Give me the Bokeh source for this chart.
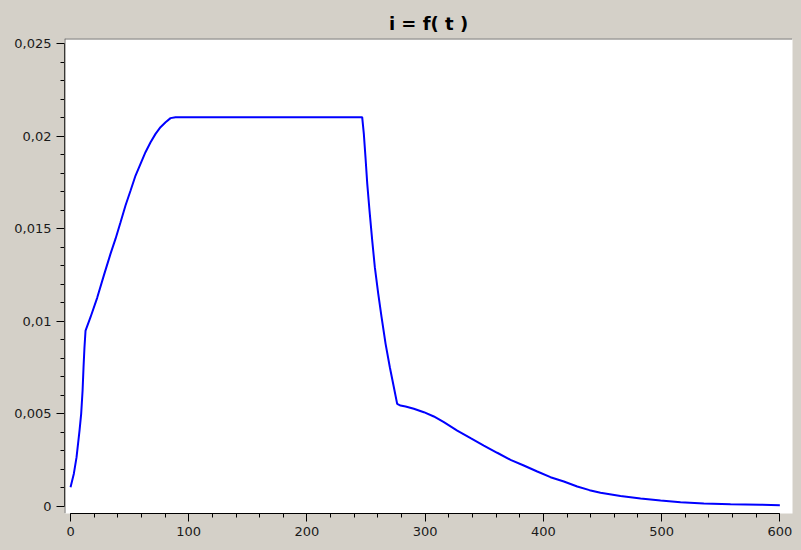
from bokeh.plotting import figure
from bokeh.models import FixedTicker, CustomJSTickFormatter, Span, Range1d, GlobalInlineStyleSheet
from bokeh.embed import file_html
from bokeh.resources import INLINE

# ---- data ----
t = [0, 2.8, 5.1, 7.6, 9.0, 10.2, 11.0, 11.8, 12.7,
     16.9, 22.6, 28.2, 33.8, 38.1, 42.3, 46.5, 50.8, 55.0, 59.2, 63.4, 67.7, 71.9, 76.1,
     80.4, 84.6, 88.8,
     150, 200, 246.7,
     248.1, 249.5, 251.0, 252.9, 255.2, 257.4, 260.3, 263.1, 266.5, 270.1, 273.5, 276.3, 279.1,
     283.4, 290.4, 298.9, 307.3, 315.8, 327.1, 338.4, 349.6, 360.9, 372.2, 383.4, 394.8,
     406.0, 417.3, 428.6, 439.0, 448.3, 465.2, 482.2, 499.1, 516.0, 535.7, 558.3, 583.7, 600]
i = [0.00104, 0.00177, 0.00266, 0.0041, 0.0050, 0.00626, 0.00752, 0.0086, 0.0095,
     0.01022, 0.01128, 0.01248, 0.01364, 0.01446, 0.01535, 0.01625, 0.01706, 0.01787,
     0.0185, 0.01913, 0.01967, 0.02012, 0.02048, 0.02075, 0.02097, 0.02102,
     0.02102, 0.02102, 0.02102,
     0.02012, 0.01886, 0.01742, 0.01598, 0.01436, 0.01292, 0.01148, 0.01022, 0.00878, 0.00752,
     0.00644, 0.00554, 0.00545,
     0.0054, 0.00528, 0.00509, 0.00486, 0.00455, 0.0041, 0.00369, 0.00329, 0.0029, 0.00252,
     0.00221, 0.00189, 0.00158, 0.00135, 0.00108, 0.00088, 0.00074, 0.00056, 0.00043, 0.00032,
     0.00023, 0.00016, 0.00012, 0.00009, 0.00007]

x_ticks = [0, 100, 200, 300, 400, 500, 600]
x_minor = list(range(0, 601, 20))
y_ticks = [0, 0.005, 0.01, 0.015, 0.02, 0.025]
y_minor = [k / 1000 for k in range(0, 26)]

title_text = "i = f( t )"

BG = "#d4d0c8"
FRAME = "#6e6d68"

x0, x1 = -5.1, 610.7
y0, y1 = -0.00038, 0.02527

p = figure(width=801, height=550, output_backend="svg", toolbar_location=None,
           x_range=Range1d(x0, x1), y_range=Range1d(y0, y1),
           min_border_left=64, min_border_right=9, min_border_top=38, min_border_bottom=37,
           background_fill_color="white", border_fill_color=BG, outline_line_color=None,
           title=title_text)

p.title.align = "center"
p.title.text_font = "DejaVu Sans"
p.title.text_font_size = "18px"
p.title.text_font_style = "bold"
p.title.text_color = "black"
p.title.offset = 2

p.grid.visible = False

p.xaxis.ticker = FixedTicker(ticks=x_ticks, minor_ticks=x_minor)
p.yaxis.ticker = FixedTicker(ticks=y_ticks, minor_ticks=y_minor)
p.xaxis.bounds = (x_ticks[0], x_ticks[-1])
p.yaxis.bounds = (y_ticks[0], y_ticks[-1])
p.yaxis.formatter = CustomJSTickFormatter(code="""
let s = tick.toFixed(3).replace(/0+$/, '').replace(/\\.$/, '');
return s.replace('.', ',');
""")

for ax in (p.xaxis, p.yaxis):
    ax.axis_line_color = "black"
    ax.axis_line_width = 1
    ax.major_tick_line_color = "black"
    ax.minor_tick_line_color = "black"
    ax.major_tick_in = 0
    ax.major_tick_out = 8
    ax.minor_tick_in = 0
    ax.minor_tick_out = 4
    ax.major_label_text_font = "DejaVu Sans"
    ax.major_label_text_font_size = "13px"
    ax.major_label_text_color = "#1a1a1a"
    ax.major_label_standoff = 5

p.add_layout(Span(location=x0, dimension="height", line_color=FRAME, line_width=2))
p.add_layout(Span(location=y1, dimension="width", line_color=FRAME, line_width=2))

p.line(t, i, line_color="#0000ff", line_width=2)

p.stylesheets = [GlobalInlineStyleSheet(css="body { background: %s; }" % BG)]

open("out.html", "w").write(file_html(p, INLINE))
